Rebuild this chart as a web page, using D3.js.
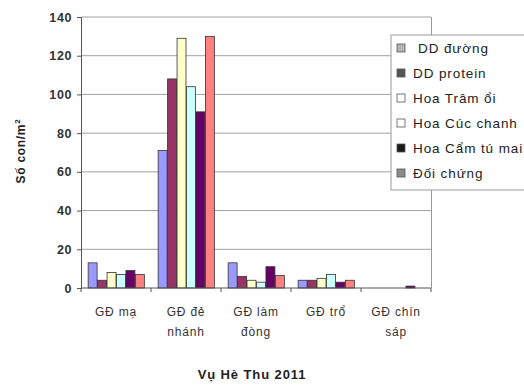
<!DOCTYPE html>
<html><head><meta charset="utf-8">
<script src="https://cdn.jsdelivr.net/npm/d3@7"></script>
<style>body{margin:0;background:#fff;overflow:hidden}svg{display:block}</style>
</head><body><svg id="c" width="524" height="385"></svg>
<script>
const categories = [["GĐ mạ"],["GĐ đẻ","nhánh"],["GĐ làm","đòng"],["GĐ trổ"],["GĐ chín","sáp"]];
const seriesNames = ["DD đường","DD protein","Hoa Trâm ổi","Hoa Cúc chanh","Hoa Cẩm tú mai","Đối chứng"];
const ddDuong = [13, 71, 13, 4, 0];
const ddProtein = [4, 108, 6, 4, 0];
const hoaTramOi = [8, 129, 4, 5, 0];
const hoaCucChanh = [7, 104, 3, 7, 0];
const hoaCamTuMai = [9, 91, 11, 3, 1];
const doiChung = [7, 130, 6.5, 4, 0];
const yTicks = [0,20,40,60,80,100,120,140];
const seriesValues = [ddDuong, ddProtein, hoaTramOi, hoaCucChanh, hoaCamTuMai, doiChung];
const barColors = ["#9999ff","#993366","#ffffcc","#ccffff","#660066","#ff8080"];
const legendColors = ["#b4b4b4","#555555","#ffffff","#ffffff","#1a1a1a","#8c8c8c"];
const FONT = "Liberation Sans, Arial, sans-serif";

const svg = d3.select("#c");
const L=81, R=431, T=17, B=288;
const x = d3.scaleBand().domain(d3.range(categories.length)).range([L,R]).paddingInner(0.19).paddingOuter(0.095);
const xs = d3.scaleBand().domain(d3.range(seriesValues.length)).range([0,x.bandwidth()]);
const y = d3.scaleLinear().domain([0,140]).range([B,T]);

// gridlines
svg.append("g").selectAll("line").data(yTicks.slice(1)).join("line")
  .attr("x1",L).attr("x2",R).attr("y1",d=>y(d)).attr("y2",d=>y(d))
  .attr("stroke","#a0a0a0").attr("stroke-width",1);
svg.append("line").attr("x1",R+0.5).attr("x2",R+0.5).attr("y1",T).attr("y2",B).attr("stroke","#9a9a9a");

// bars
seriesValues.forEach((vals,si)=>{
  svg.append("g").selectAll("rect").data(vals).join("rect")
    .attr("x",(d,i)=>x(i)+xs(si)+0.5)
    .attr("width",xs.bandwidth()-0.5)
    .attr("y",d=>y(d))
    .attr("height",d=>Math.max(0,B-y(d)))
    .attr("fill",barColors[si]).attr("stroke","#333").attr("stroke-width",0.8);
});

// y axis
const ya = svg.append("g").attr("transform",`translate(${L},0)`).call(d3.axisLeft(y).tickValues(yTicks).tickSize(4).tickPadding(5));
ya.select(".domain").attr("stroke","#555");
ya.selectAll(".tick line").attr("stroke","#555");
ya.selectAll("text").attr("font-family",FONT).attr("font-size",12.5).attr("font-weight","bold")
  .attr("letter-spacing",0.6).attr("fill","#333");

// x axis
const xa = svg.append("g").attr("transform",`translate(0,${B})`);
xa.append("line").attr("x1",L).attr("x2",R).attr("stroke","#555");
const xTicks = d3.range(categories.length+1).map(i=> i<categories.length ? x(i)-x.step()*x.paddingInner()/2 : R);
xa.selectAll(".t").data(xTicks).join("line").attr("x1",d=>d).attr("x2",d=>d).attr("y1",0).attr("y2",4).attr("stroke","#555");
categories.forEach((lines,i)=>{
  const t = xa.append("text").attr("text-anchor","middle").attr("font-family",FONT)
    .attr("font-size",12).attr("letter-spacing",0.8).attr("fill","#333");
  lines.forEach((s,k)=>t.append("tspan").attr("x",x(i)+x.bandwidth()/2).attr("y",28+k*20).text(s));
});

// axis titles
svg.append("text").attr("x",252).attr("y",379).attr("text-anchor","middle")
  .attr("font-family",FONT).attr("font-size",13).attr("letter-spacing",0.9).attr("font-weight","bold").attr("fill","#222").text("Vụ Hè Thu 2011");
svg.append("text").attr("transform","translate(25,151) rotate(-90)").attr("text-anchor","middle")
  .attr("font-family",FONT).attr("font-size",12).attr("letter-spacing",0.7).attr("font-weight","bold").attr("fill","#222")
  .html('Số con/m<tspan dy="-5" font-size="8">2</tspan>');

// legend
const lg = svg.append("g");
lg.append("rect").attr("x",391).attr("y",35).attr("width",140).attr("height",155).attr("fill","#fff").attr("stroke","#999");
seriesNames.forEach((n,i)=>{
  const cy = 48 + i*25;
  lg.append("rect").attr("x",397).attr("y",cy-4).attr("width",8).attr("height",8).attr("fill",legendColors[i]).attr("stroke","#555").attr("stroke-width",0.8);
  lg.append("text").attr("x", i===0?418:413).attr("y",cy+5).attr("font-family",FONT)
    .attr("font-size",13.5).attr("letter-spacing",0.9).attr("fill","#222").text(n);
});
</script></body></html>
